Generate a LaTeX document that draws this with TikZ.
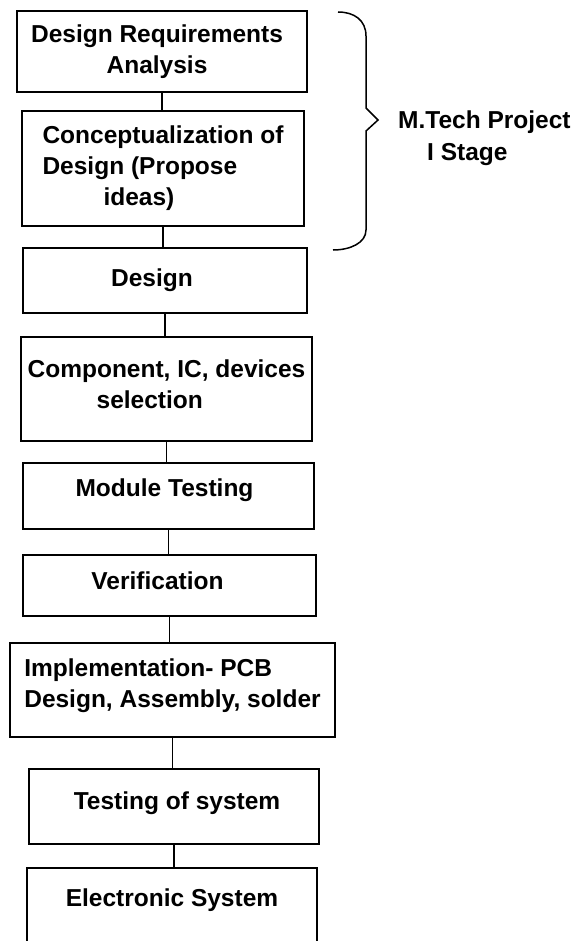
\documentclass[tikz,border=0pt]{standalone}
\usepackage{fontspec}
\setmainfont{Liberation Sans}
\usetikzlibrary{positioning}
\tikzset{
     box/.style = {draw, line width=1.5pt, align=center, inner sep=0pt,
                   font=\fontsize{24.5pt}{31pt}\selectfont\bfseries},
     lbl/.style = {align=left, inner sep=0pt,
                   font=\fontsize{24.5pt}{32pt}\selectfont\bfseries},
    link/.style = {line width=1.5pt},
}

\begin{document}
\begin{tikzpicture}[x=1pt,y=-1pt]
\useasboundingbox (0,0) rectangle (579,941);
% stages, top to bottom
\node[box, minimum width=290pt, minimum height=81pt] (req) at (162,51.5) {Design Requirements\hspace*{10pt}\\Analysis\hspace*{10pt}};
\node[box, align=left, minimum width=282pt, minimum height=115pt] (concept) at (163,168.5)
    {Conceptualization of\\Design (Propose\\\hspace*{61pt}ideas)};
\node[box, minimum width=284pt, minimum height=65pt] (design) at (165,280.5) {Design\hspace*{26pt}};
\node[box, align=left, text depth=10pt, minimum width=291pt, minimum height=104pt] (comp) at (166.5,389)
    {Component, IC, devices\\\hspace*{69pt}selection};
\node[box, text depth=17pt, minimum width=291pt, minimum height=66pt] (modtest) at (168.5,496) {Module Testing\hspace*{8pt}};
\node[box, text depth=10pt, minimum width=293pt, minimum height=61pt] (verif) at (169.5,585.5) {Verification\hspace*{24pt}};
\node[box, align=left, text depth=13pt, minimum width=325pt, minimum height=94pt] (impl) at (172.5,690)
    {Implementation- PCB\\Design, Assembly, solder};
\node[box, text depth=11pt, minimum width=290pt, minimum height=75pt] (systest) at (174,806.5) {\hspace*{6pt}Testing of system};
\node[box, text depth=31pt, minimum width=290pt, minimum height=90pt] (esys) at (172,913) {Electronic System};
% links
\draw[link] (req.south) -- (req.south |- concept.north);
\draw[link] (concept.south) -- (concept.south |- design.north);
\draw[link] (design.south) -- (design.south |- comp.north);
\draw[link] (comp.south) -- (comp.south |- modtest.north);
\draw[link] (modtest.south) -- (modtest.south |- verif.north);
\draw[link] (verif.south) -- (verif.south |- impl.north);
\draw[link] (impl.south) -- (impl.south |- systest.north);
\draw[link] (systest.south) -- (systest.south |- esys.north);
% brace over the first stage
\draw[link] (338,12) .. controls (354,12) and (366,20) .. (366,36) -- (366,108)
    -- (378,120) -- (366,131) -- (366,230) .. controls (366,243) and (350,250) .. (333,250);
\node[lbl, anchor=north west] (stage) at (398,111) {M.Tech Project\\\hspace*{29pt}I Stage};
\end{tikzpicture}
\end{document}
